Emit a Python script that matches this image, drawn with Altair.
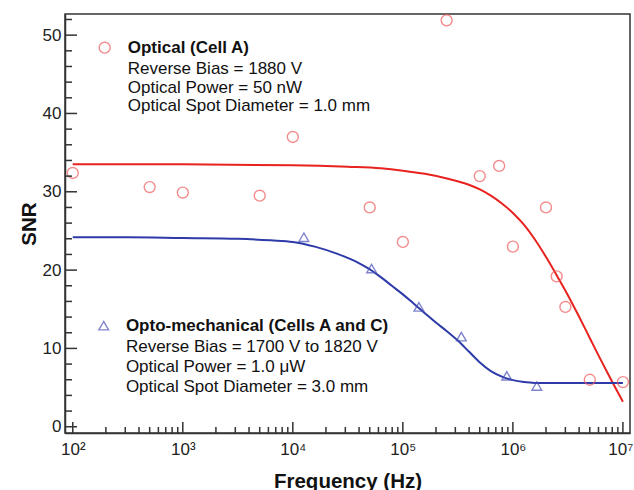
import altair as alt
import pandas as pd

# ---------------- data ----------------
opt_freq = [100, 500, 1000, 5000, 10000, 50000, 100000, 250000, 500000, 750000,
            1000000, 2000000, 2500000, 3000000, 5000000, 10000000]
opt_snr = [32.4, 30.6, 29.9, 29.5, 37.0, 28.0, 23.6, 51.9, 32.0, 33.3,
           23.0, 28.0, 19.2, 15.3, 6.0, 5.7]

mech_freq = [12600, 52000, 140000, 340000, 880000, 1650000]
mech_snr = [24.2, 20.2, 15.3, 11.5, 6.5, 5.2]

# fitted curves (log10 frequency, SNR)
opt_fit_logf = [2.0, 3.0, 4.0, 4.5, 4.8, 5.0, 5.2, 5.4, 5.6, 5.7, 5.8, 5.9, 6.0,
                6.1, 6.2, 6.3, 6.4, 6.5, 6.6, 6.7, 6.8, 6.9, 7.0]
opt_fit_snr = [33.5, 33.5, 33.4, 33.2, 33.0, 32.7, 32.3, 31.7, 30.9, 30.3, 29.5,
               28.5, 27.3, 25.8, 23.9, 21.7, 19.3, 16.8, 14.1, 11.3, 8.5, 5.8, 3.2]

mech_fit_logf = [2.0, 2.5, 3.0, 3.5, 3.8, 4.0, 4.2, 4.4, 4.6, 4.7, 4.8, 4.9, 5.0,
                 5.1, 5.2, 5.3, 5.4, 5.5, 5.6, 5.7, 5.8, 5.9, 6.0, 6.1, 6.2, 6.3, 7.0]
mech_fit_snr = [24.2, 24.2, 24.1, 24.0, 23.8, 23.6, 23.0, 22.1, 20.9, 20.1, 19.1,
                18.0, 16.9, 15.7, 14.5, 13.3, 12.2, 11.0, 9.6, 8.2, 7.1, 6.4, 5.95,
                5.7, 5.6, 5.6, 5.6]

x_major = [100, 1000, 10000, 100000, 1000000, 10000000]
x_minor = [m * 10 ** k for k in range(2, 7) for m in range(2, 10)]
y_major = [0, 10, 20, 30, 40, 50]
y_minor = [v for v in range(2, 53, 2) if v % 10 != 0]

# annotation block (positions in data units)
opt_note_x = 316
opt_note = ["Optical (Cell A)", "Reverse Bias = 1880 V",
            "Optical Power = 50 nW", "Optical Spot Diameter = 1.0 mm"]
opt_note_y = [48.4, 45.7, 43.3, 40.9]
opt_note_w = ["bold", "normal", "normal", "normal"]
opt_sym = (195, 48.4)

mech_note_x = 304
mech_note = ["Opto-mechanical (Cells A and C)", "Reverse Bias = 1700 V to 1820 V",
             "Optical Power = 1.0 μW", "Optical Spot Diameter = 3.0 mm"]
mech_note_y = [12.8, 10.2, 7.6, 5.1]
mech_note_w = ["bold", "normal", "normal", "normal"]
mech_sym = (191, 12.9)

# ---------------- styling ----------------
W, H = 565, 419
FONT = "Liberation Sans"
RED_PT, RED_LN = "#ef5b5b", "#e8231f"
BLUE_PT, BLUE_LN = "#4a52b8", "#2d3aa8"
INK = "#333333"

xs = alt.Scale(type="log", domain=[85, 11600000], nice=False)
ys = alt.Scale(domain=[-0.8, 52.7], nice=False, zero=False)

opt_df = pd.DataFrame({"f": opt_freq, "snr": opt_snr})
mech_df = pd.DataFrame({"f": mech_freq, "snr": mech_snr})
opt_fit_df = pd.DataFrame({"f": [10 ** v for v in opt_fit_logf], "snr": opt_fit_snr})
mech_fit_df = pd.DataFrame({"f": [10 ** v for v in mech_fit_logf], "snr": mech_fit_snr})

sup = "['⁰','¹','²','³','⁴','⁵','⁶','⁷','⁸'][round(log(datum.value)/LN10)]"

x_axis = alt.Axis(values=x_major, labelExpr="'10' + " + sup, ticks=False, tickSize=0,
                  grid=False, labelFont=FONT, labelFontSize=17, labelColor="#222",
                  labelPadding=8, domainColor=INK, domainWidth=1.5,
                  labelAlign={"condition": {"test": "datum.value > 5000000", "value": "right"},
                              "value": "center"},
                  labelOffset={"condition": {"test": "datum.value > 5000000", "value": 10},
                               "value": 0},
                  title="Frequency (Hz)", titleFont=FONT, titleFontSize=20.5,
                  titleFontWeight="bold", titleColor="#111", titleBaseline="alphabetic",
                  titleY=54)
y_axis = alt.Axis(values=y_major, ticks=False, tickSize=0, grid=False,
                  labelFont=FONT, labelFontSize=17, labelColor="#222", labelPadding=4,
                  domainColor=INK, domainWidth=1.5,
                  title="SNR", titleFont=FONT, titleFontSize=20.5, titleFontWeight="bold",
                  titleColor="#111", titleX=-26, titleY=H / 2)

fit_opt = alt.Chart(opt_fit_df).mark_line(color=RED_LN, strokeWidth=2, interpolate="monotone").encode(
    x=alt.X("f:Q", scale=xs, axis=x_axis),
    y=alt.Y("snr:Q", scale=ys, axis=y_axis),
)
fit_mech = alt.Chart(mech_fit_df).mark_line(color=BLUE_LN, strokeWidth=2, interpolate="monotone").encode(
    x=alt.X("f:Q", scale=xs), y=alt.Y("snr:Q", scale=ys)
)
pts_opt = alt.Chart(opt_df).mark_point(shape="circle", filled=False, color=RED_PT,
                                       size=120, strokeWidth=1.4).encode(
    x=alt.X("f:Q", scale=xs), y=alt.Y("snr:Q", scale=ys)
)
pts_mech = alt.Chart(mech_df).mark_point(shape="triangle-up", filled=False, color=BLUE_PT,
                                         size=95, strokeWidth=1.4).encode(
    x=alt.X("f:Q", scale=xs), y=alt.Y("snr:Q", scale=ys)
)

# inward ticks
ytick_major = alt.Chart(pd.DataFrame({"v": y_major})).mark_rule(color=INK, strokeWidth=1.5).encode(
    y=alt.Y("v:Q", scale=ys), x=alt.value(0), x2=alt.value(12))
ytick_minor = alt.Chart(pd.DataFrame({"v": y_minor})).mark_rule(color=INK, strokeWidth=1.5).encode(
    y=alt.Y("v:Q", scale=ys), x=alt.value(0), x2=alt.value(7))
xtick_major = alt.Chart(pd.DataFrame({"v": x_major})).mark_rule(color=INK, strokeWidth=1.5).encode(
    x=alt.X("v:Q", scale=xs), y=alt.value(H), y2=alt.value(H - 11))
xtick_minor = alt.Chart(pd.DataFrame({"v": x_minor})).mark_rule(color=INK, strokeWidth=1.5).encode(
    x=alt.X("v:Q", scale=xs), y=alt.value(H), y2=alt.value(H - 6))

# annotations
def note(xv, texts, yvals, weights):
    df = pd.DataFrame({"f": [xv] * len(texts), "snr": yvals, "t": texts, "w": weights})
    bold = alt.Chart(df[df.w == "bold"]).mark_text(align="left", baseline="middle", font=FONT,
                                                   fontSize=17, fontWeight="bold", color="#111").encode(
        x=alt.X("f:Q", scale=xs), y=alt.Y("snr:Q", scale=ys), text="t:N")
    norm = alt.Chart(df[df.w == "normal"]).mark_text(align="left", baseline="middle", font=FONT,
                                                     fontSize=17, color="#111").encode(
        x=alt.X("f:Q", scale=xs), y=alt.Y("snr:Q", scale=ys), text="t:N")
    return bold + norm

opt_sym_pt = alt.Chart(pd.DataFrame({"f": [opt_sym[0]], "snr": [opt_sym[1]]})).mark_point(
    shape="circle", filled=False, color=RED_PT, size=120, strokeWidth=1.4).encode(
    x=alt.X("f:Q", scale=xs), y=alt.Y("snr:Q", scale=ys))
mech_sym_pt = alt.Chart(pd.DataFrame({"f": [mech_sym[0]], "snr": [mech_sym[1]]})).mark_point(
    shape="triangle-up", filled=False, color=BLUE_PT, size=95, strokeWidth=1.4).encode(
    x=alt.X("f:Q", scale=xs), y=alt.Y("snr:Q", scale=ys))

chart = alt.layer(
    fit_opt, fit_mech, pts_opt, pts_mech,
    ytick_major, ytick_minor, xtick_major, xtick_minor,
    note(opt_note_x, opt_note, opt_note_y, opt_note_w),
    note(mech_note_x, mech_note, mech_note_y, mech_note_w),
    opt_sym_pt, mech_sym_pt,
).properties(
    width=W, height=H,
    autosize=alt.AutoSizeParams(type="none"),
    padding={"left": 65, "top": 14, "right": 4, "bottom": 57},
    background="white",
).configure_view(stroke=INK, strokeWidth=1.5)

chart.save("out.html", embed_options={"renderer": "svg", "actions": False})
